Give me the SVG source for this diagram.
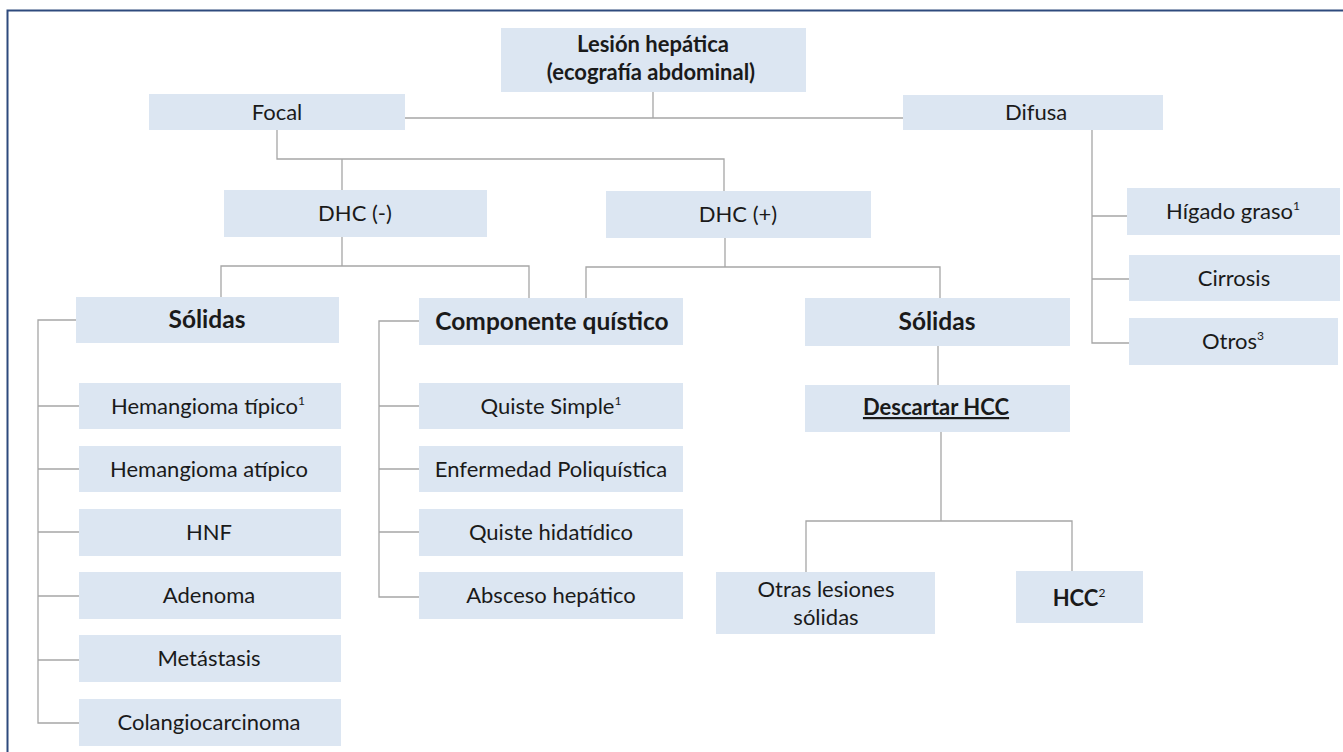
<svg xmlns="http://www.w3.org/2000/svg" width="1343" height="752" viewBox="0 0 1343 752">
  <style>
    .box { fill: #dce6f2; }
    .t { font-family: Lato, "Liberation Sans", sans-serif; font-size: 22px; fill: #1a1a1a; text-anchor: middle; }
    .b { font-weight: bold; }
    .h { font-weight: bold; font-size: 24.5px; }
    .sup { font-size: 12px; font-weight: normal; }
    .wire { fill: none; stroke: #a6a6a6; stroke-width: 1.3; }
  </style>
  <rect width="1343" height="752" fill="#ffffff"/>
  <!-- frame (open on the right and bottom) -->
  <rect x="7.5" y="10.5" width="1345" height="750" fill="none" stroke="#2e4a7d" stroke-width="2"/>

  <g id="connectors" class="wire">
    <path d="M653 92V118M405 118H903"/>
    <path d="M277 130V159H724V191M342 159V190"/>
    <path d="M342 237V266M221 297V266H529V298"/>
    <path d="M725 238V267M586 298V267H940V298"/>
    <path d="M938 346V385"/>
    <path d="M941 432V521M806 572V521H1072V571"/>
    <path d="M1092 130V343H1129M1092 216H1127M1092 279H1129"/>
    <path d="M76 320H38V723H79M38 406H79M38 469H79M38 532H79M38 596H79M38 660H79"/>
    <path d="M419 321H379V597H419M379 406H419M379 469H419M379 532H419"/>
  </g>

  <g id="lesion">
    <rect class="box" x="501" y="28" width="305" height="64"/>
    <text class="t b" x="653" y="52" font-size="20">Lesión hepática</text>
    <text class="t b" x="651" y="80" font-size="20">(ecografía abdominal)</text>
  </g>
  <g id="focal">
    <rect class="box" x="149" y="94" width="256" height="36"/>
    <text class="t" x="277" y="120" font-size="23.5">Focal</text>
  </g>
  <g id="difusa">
    <rect class="box" x="903" y="95" width="260" height="35"/>
    <text class="t" x="1036" y="120" font-size="23">Difusa</text>
  </g>
  <g id="dhc-neg">
    <rect class="box" x="224" y="190" width="263" height="47"/>
    <text class="t" x="355" y="221">DHC (-)</text>
  </g>
  <g id="dhc-pos">
    <rect class="box" x="606" y="191" width="265" height="47"/>
    <text class="t" x="738" y="222">DHC (+)</text>
  </g>
  <g id="solidas-neg">
    <rect class="box" x="76" y="297" width="263" height="46"/>
    <text class="t h" x="207" y="328">Sólidas</text>
  </g>
  <g id="quistico">
    <rect class="box" x="419" y="298" width="264" height="47"/>
    <text class="t h" x="552" y="330">Componente quístico</text>
  </g>
  <g id="solidas-pos">
    <rect class="box" x="805" y="298" width="265" height="48"/>
    <text class="t h" x="937" y="330">Sólidas</text>
  </g>
  <g id="descartar">
    <rect class="box" x="805" y="385" width="265" height="47"/>
    <text class="t b" x="936" y="415" text-decoration="underline" font-size="19.5">Descartar HCC</text>
  </g>
  <g id="higado">
    <rect class="box" x="1127" y="188" width="213" height="47"/>
    <text class="t" x="1233" y="219">Hígado graso<tspan class="sup" dy="-9">1</tspan></text>
  </g>
  <g id="cirrosis">
    <rect class="box" x="1129" y="255" width="211" height="46"/>
    <text class="t" x="1234" y="286">Cirrosis</text>
  </g>
  <g id="otros">
    <rect class="box" x="1129" y="318" width="209" height="47"/>
    <text class="t" x="1233" y="349">Otros<tspan class="sup" dy="-9">3</tspan></text>
  </g>

  <g id="hemangioma-tipico">
    <rect class="box" x="79" y="383" width="262" height="46"/>
    <text class="t" x="208" y="414">Hemangioma típico<tspan class="sup" dy="-9">1</tspan></text>
  </g>
  <g id="hemangioma-atipico">
    <rect class="box" x="79" y="446" width="262" height="46"/>
    <text class="t" x="209" y="477">Hemangioma atípico</text>
  </g>
  <g id="hnf">
    <rect class="box" x="79" y="509" width="262" height="47"/>
    <text class="t" x="209" y="540">HNF</text>
  </g>
  <g id="adenoma">
    <rect class="box" x="79" y="572" width="262" height="47"/>
    <text class="t" x="209" y="603">Adenoma</text>
  </g>
  <g id="metastasis">
    <rect class="box" x="79" y="635" width="262" height="47"/>
    <text class="t" x="209" y="666">Metástasis</text>
  </g>
  <g id="colangio">
    <rect class="box" x="79" y="699" width="262" height="47"/>
    <text class="t" x="209" y="730">Colangiocarcinoma</text>
  </g>

  <g id="quiste-simple">
    <rect class="box" x="419" y="383" width="264" height="46"/>
    <text class="t" x="551" y="414">Quiste Simple<tspan class="sup" dy="-9">1</tspan></text>
  </g>
  <g id="poliquistica">
    <rect class="box" x="419" y="446" width="264" height="46"/>
    <text class="t" x="551" y="477">Enfermedad Poliquística</text>
  </g>
  <g id="hidatidico">
    <rect class="box" x="419" y="509" width="264" height="47"/>
    <text class="t" x="551" y="540">Quiste hidatídico</text>
  </g>
  <g id="absceso">
    <rect class="box" x="419" y="572" width="264" height="47"/>
    <text class="t" x="551" y="603">Absceso hepático</text>
  </g>

  <g id="otras-lesiones">
    <rect class="box" x="716" y="572" width="219" height="62"/>
    <text class="t" x="826" y="597">Otras lesiones</text>
    <text class="t" x="826" y="625">sólidas</text>
  </g>
  <g id="hcc">
    <rect class="box" x="1016" y="571" width="127" height="52"/>
    <text class="t b" x="1079" y="606">HCC<tspan class="sup" dy="-9">2</tspan></text>
  </g>
</svg>
